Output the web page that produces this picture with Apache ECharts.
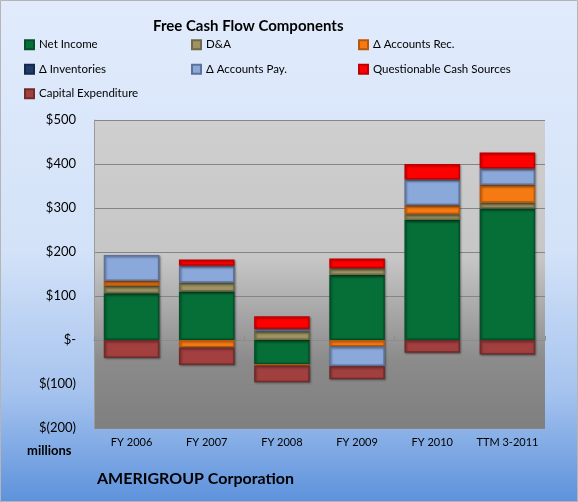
<!DOCTYPE html>
<html>
<head>
<meta charset="utf-8">
<script src="https://cdn.jsdelivr.net/npm/echarts@6/dist/echarts.min.js"></script>
<style>
  html, body { margin: 0; padding: 0; }
  #main { width: 578px; height: 502px; }
</style>
</head>
<body>
<div id="main"></div>
<script>
// values in $ millions
var categories = ['FY 2006', 'FY 2007', 'FY 2008', 'FY 2009', 'FY 2010', 'TTM 3-2011'];
var netIncome = [106, 110, -55, 148, 273, 299];
var dna = [17, 20, 20, 15, 13, 13];
var accountsRec = [11, -17, -3, -15, 20, 40];
var inventories = [0, 0, 0, 0, 0, 0];
var accountsPay = [59, 39, 5, -44, 59, 38];
var questionable = [0, 14, 29, 22, 35, 36];
var capex = [-41, -40, -38, -30, -29, -33];
var yTicks = [-200, -100, 0, 100, 200, 300, 400, 500];

var font = 'Lato';

function seg(name, data, color, border) {
  return {
    name: name,
    type: 'bar',
    stack: 'fcf',
    // zero segments are not drawn at all (no stray border line)
    data: data.map(function (v) { return v === 0 ? '-' : v; }),
    barCategoryGap: '26%',
    itemStyle: {
      color: color,
      borderColor: border,
      borderWidth: 1.5,
      shadowBlur: 2,
      shadowOffsetX: 1,
      shadowOffsetY: 1,
      shadowColor: 'rgba(0,0,0,0.35)'
    }
  };
}

option = {
  backgroundColor: new echarts.graphic.LinearGradient(0, 0, 0, 1, [
    { offset: 0, color: '#e1ebfc' },
    { offset: 0.5, color: '#d3e2f8' },
    { offset: 0.78, color: '#a6c3ee' },
    { offset: 1, color: '#5d92dc' }
  ]),
  animation: false,
  title: {
    text: 'Free Cash Flow Components',
    left: 148,
    top: 14,
    textStyle: { fontFamily: font, fontSize: 15, fontWeight: 'bold', color: '#000' }
  },
  legend: {
    left: 19,
    top: 30,
    width: 520,
    itemWidth: 9,
    itemHeight: 9,
    itemGap: 5,
    icon: 'rect',
    textStyle: { fontFamily: font, fontSize: 11.5, color: '#000', width: 147, lineHeight: 19.5 },
    data: ['Net Income', 'D&A', 'Δ Accounts Rec.', 'Δ Inventories', 'Δ Accounts Pay.',
           'Questionable Cash Sources', 'Capital Expenditure']
  },
  grid: {
    left: 94, right: 33, top: 120, bottom: 74,
    show: true,
    borderWidth: 0,
    backgroundColor: new echarts.graphic.LinearGradient(0, 0, 0, 1, [
      { offset: 0, color: '#cfcfcf' },
      { offset: 0.45, color: '#c6c6c6' },
      { offset: 0.78, color: '#8b8b8b' },
      { offset: 1, color: '#7f7f7f' }
    ])
  },
  xAxis: [{
    type: 'category',
    data: categories,
    axisLine: { show: false, onZero: false },
    axisTick: { show: false },
    axisLabel: { fontFamily: font, fontSize: 11, color: '#000', margin: 9, interval: 0 }
  }, {
    type: 'category',
    data: categories,
    position: 'bottom',
    axisLine: { show: true, onZero: true, lineStyle: { color: '#8c8c8c', width: 1 } },
    axisTick: { show: true, inside: true, length: 4, lineStyle: { color: '#8c8c8c' } },
    axisLabel: { show: false }
  }],
  yAxis: {
    type: 'value',
    min: yTicks[0],
    max: yTicks[yTicks.length - 1],
    interval: 100,
    axisLine: { show: true, lineStyle: { color: '#9a9a9a' } },
    axisTick: { show: false },
    splitLine: { lineStyle: { color: '#858585', width: 1 } },
    axisLabel: {
      fontFamily: font, fontSize: 13, color: '#000', margin: 18,
      formatter: function (v) {
        if (v === 0) return '$-';
        if (v < 0) return '$(' + Math.abs(v) + ')';
        return '$' + v;
      }
    }
  },
  graphic: [
    { type: 'text', left: 27, top: 444,
      style: { text: 'millions', font: 'bold 13px ' + font, fill: '#000' } },
    { type: 'text', left: 97, top: 471,
      style: { text: 'AMERIGROUP Corporation', font: 'bold 16px ' + font, fill: '#000' } },
    { type: 'rect', shape: { x: 0.5, y: 0.5, width: 577, height: 501 },
      style: { fill: 'none', stroke: '#b5b5b5', lineWidth: 1 } }
  ],
  series: [
    seg('Net Income', netIncome, '#056f37', '#03502a'),
    seg('D&A', dna, '#9d9462', '#6f6a45'),
    seg('Δ Accounts Rec.', accountsRec, '#f57a12', '#b9570a'),
    seg('Δ Inventories', inventories, '#1f3a6b', '#142848'),
    seg('Δ Accounts Pay.', accountsPay, '#8aa8da', '#5d7299'),
    seg('Questionable Cash Sources', questionable, '#ff0000', '#c00000'),
    seg('Capital Expenditure', capex, '#a23f3f', '#702b2b')
  ]
};

var myChart = echarts.init(document.getElementById('main'));
myChart.setOption(option);
</script>
</body>
</html>
